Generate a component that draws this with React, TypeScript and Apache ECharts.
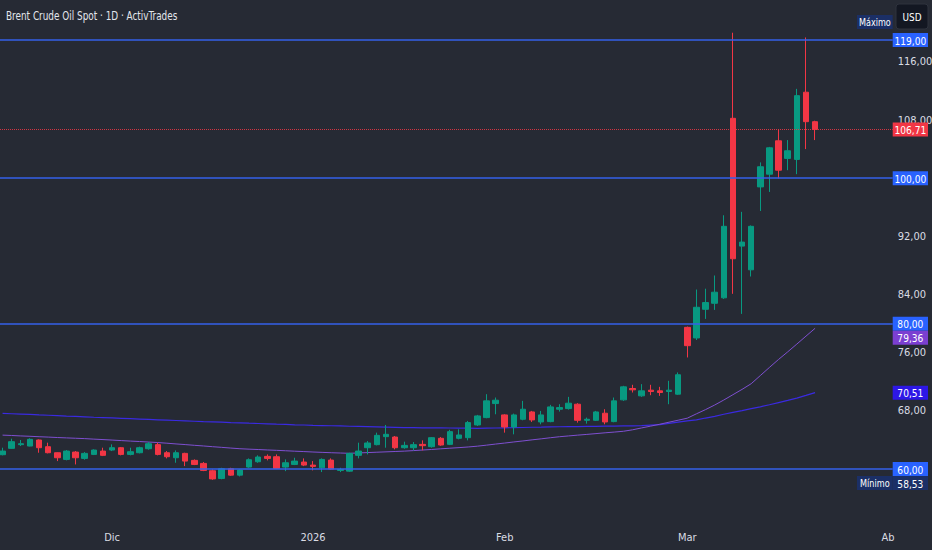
import React, { useEffect, useRef } from "react";
import * as echarts from "echarts";

const FONT =
  "'Liberation Sans Narrow', 'DejaVu Sans Condensed', 'Roboto Condensed', 'Liberation Sans', Arial, sans-serif";

const chartTitle = "Brent Crude Oil Spot · 1D · ActivTrades";

// [open, close, low, high]
const novCandles = [
  [61.98, 62.48, 61.89, 62.94],
  [62.85, 63.77, 62.8, 64.18],
  [63.36, 63.49, 63.17, 64.0],
  [63.17, 64.09, 63.13, 64.23],
  [64.0, 62.94, 62.25, 64.09],
  [63.08, 62.25, 62.16, 63.63],
  [62.25, 61.56, 61.1, 62.3],
  [61.33, 62.48, 61.2, 62.62],
  [62.34, 61.56, 60.64, 62.48],
  [61.47, 62.16, 61.29, 62.34],
  [62.02, 62.62, 61.93, 62.71],
  [62.48, 61.89, 61.79, 62.94],
];
const decCandles = [
  [62.62, 62.94, 62.48, 63.4],
  [62.94, 62.02, 61.89, 63.03],
  [62.02, 62.39, 61.89, 62.94],
  [62.25, 62.94, 62.16, 63.08],
  [62.8, 63.49, 62.67, 63.72],
  [63.36, 62.02, 61.89, 63.63],
  [62.25, 61.7, 61.47, 62.48],
  [61.56, 62.25, 60.87, 62.57],
  [62.16, 61.1, 60.41, 62.25],
  [61.2, 60.64, 60.55, 61.33],
  [60.78, 59.82, 59.72, 60.97],
  [59.77, 58.65, 58.53, 59.95],
  [58.71, 60.05, 58.6, 60.18],
  [60.05, 59.17, 59.08, 60.18],
  [59.17, 59.86, 58.99, 59.95],
  [60.28, 61.29, 60.18, 61.47],
  [61.01, 61.66, 60.87, 61.89],
  [61.75, 61.47, 61.2, 62.02],
  [61.7, 60.09, 60.0, 62.02],
  [60.28, 60.87, 59.72, 61.33],
  [60.64, 61.1, 60.55, 61.56],
  [60.97, 60.55, 60.41, 61.47],
];
const janCandles = [
  [60.55, 60.37, 59.82, 61.1],
  [60.18, 61.33, 59.59, 61.47],
  [61.24, 60.0, 59.91, 61.47],
  [59.82, 59.95, 59.59, 60.18],
  [59.72, 62.16, 59.63, 62.25],
  [61.89, 62.48, 61.47, 63.63],
  [62.94, 63.59, 62.02, 63.86],
  [63.36, 64.64, 63.26, 65.01],
  [64.46, 64.78, 62.94, 66.07],
  [64.41, 62.94, 62.71, 64.55],
  [62.94, 63.26, 62.8, 63.77],
  [62.94, 63.36, 62.57, 63.72],
  [63.4, 63.22, 62.57, 63.95],
  [63.08, 64.32, 62.94, 64.41],
  [64.23, 63.31, 63.2, 64.4],
  [63.4, 65.15, 63.3, 65.4],
  [64.23, 64.69, 64.09, 65.47],
  [64.32, 66.39, 63.95, 66.62],
  [66.07, 67.31, 65.93, 67.45],
  [67.08, 69.38, 66.99, 70.3],
  [69.01, 69.47, 67.54, 69.84],
];
const febCandles = [
  [67.45, 65.79, 65.01, 67.54],
  [65.79, 67.45, 64.78, 67.63],
  [66.85, 68.23, 66.71, 69.38],
  [67.86, 66.76, 66.48, 68.0],
  [66.48, 67.45, 66.16, 68.0],
  [66.53, 68.55, 66.44, 68.83],
  [68.23, 68.46, 67.91, 68.92],
  [68.32, 69.06, 68.18, 69.93],
  [68.92, 66.71, 66.39, 69.06],
  [66.71, 66.85, 66.25, 67.08],
  [66.71, 67.86, 66.62, 68.0],
  [67.68, 66.48, 66.16, 68.23],
  [66.53, 69.38, 66.44, 69.84],
  [69.52, 71.31, 69.38, 71.45],
  [71.08, 70.9, 70.53, 71.59],
  [70.07, 70.76, 69.93, 71.68],
  [70.85, 70.67, 70.16, 71.59],
  [70.76, 70.53, 70.07, 71.31],
  [70.67, 70.85, 68.92, 72.14],
  [70.3, 72.97, 70.21, 73.29],
];
const marCandles = [
  [79.49, 76.97, 75.35, 79.6],
  [78.03, 82.25, 77.75, 84.69],
  [81.97, 82.9, 80.65, 84.8],
  [82.8, 84.32, 81.89, 86.62],
  [83.55, 93.38, 83.4, 94.9],
  [108.23, 88.92, 84.1, 120.0],
  [90.66, 91.21, 81.34, 95.37],
  [87.4, 93.38, 86.48, 93.5],
  [98.8, 101.57, 95.49, 102.17],
  [100.55, 104.18, 98.11, 104.3],
  [105.14, 101.1, 99.96, 106.72],
  [102.72, 103.77, 101.1, 105.24],
  [102.58, 111.35, 100.55, 112.28],
  [111.82, 107.77, 104.0, 119.35],
  [107.77, 106.71, 105.24, 107.9],
];

// moving averages, one value per session
const maFast = [
  64.67, 64.62, 64.56, 64.51, 64.45, 64.4, 64.34, 64.29, 64.24, 64.19,
  64.12, 64.06, 63.99, 63.92, 63.85, 63.79, 63.72, 63.65, 63.56, 63.46,
  63.37, 63.27, 63.18, 63.08, 62.99, 62.89, 62.8, 62.74, 62.69, 62.63,
  62.58, 62.52, 62.46, 62.41, 62.35, 62.3, 62.25, 62.21, 62.17, 62.22,
  62.27, 62.32, 62.37, 62.42, 62.47, 62.54, 62.62, 62.7, 62.79, 62.87,
  62.95, 63.04, 63.15, 63.29, 63.44, 63.58, 63.73, 63.87, 64.02, 64.16,
  64.31, 64.45, 64.56, 64.67, 64.77, 64.88, 64.99, 65.09, 65.2, 65.4,
  65.66, 65.91, 66.17, 66.45, 66.72, 67.0, 67.6, 68.18, 68.81, 69.5,
  70.23, 70.96, 71.74, 72.86, 73.98, 75.08, 76.12, 77.19, 78.28, 79.36,
];
const maSlow = [
  67.66, 67.61, 67.56, 67.51, 67.45, 67.4, 67.35, 67.29, 67.24, 67.19,
  67.13, 67.08, 67.03, 66.98, 66.93, 66.88, 66.83, 66.78, 66.73, 66.68,
  66.63, 66.58, 66.53, 66.49, 66.45, 66.4, 66.36, 66.31, 66.27, 66.23,
  66.18, 66.14, 66.09, 66.06, 66.02, 65.99, 65.96, 65.93, 65.89, 65.86,
  65.83, 65.8, 65.77, 65.74, 65.71, 65.7, 65.68, 65.67, 65.66, 65.65,
  65.64, 65.63, 65.61, 65.63, 65.65, 65.68, 65.7, 65.72, 65.75, 65.77,
  65.8, 65.82, 65.84, 65.85, 65.87, 65.88, 65.9, 65.91, 65.93, 65.95,
  65.97, 66.04, 66.11, 66.28, 66.45, 66.62, 66.77, 67.02, 67.26, 67.54,
  67.8, 68.05, 68.31, 68.56, 68.85, 69.15, 69.44, 69.76, 70.13, 70.51,
];

const levelLines = [119, 100, 80, 60];
const lastPrice = 106.71;
const yTickLabels = [68, 76, 84, 92, 108, 116];
const monthTicks: Record<string, string> = {
  "2025-12-01": "Dic",
  "2026-01-02": "2026",
  "2026-02-02": "Feb",
  "2026-03-02": "Mar",
  "2026-04-01": "Ab",
};
const firstDay = "2025-11-13";
const lastDay = "2026-04-01";
const holidays = ["2025-12-25", "2026-01-01"];

const BG = "#262a34";
const TEXT = "#d9dce3";
const UP = "#089981";
const DOWN = "#f23645";
const LEVEL_BLUE = "#2962ff";
const LEVEL_LINE = "#3560e8";
const FAST_COLOR = "#7e4fd0";
const FAST_TAG = "#7b3fd1";
const SLOW_COLOR = "#3a2ae0";
const SLOW_TAG = "#2d17e6";
const HL_TAG = "#1b2f66";

const W = 932;
const H = 550;
const GRID_LEFT = -2;
const GRID_RIGHT_EDGE = 892.7;

function tradingDays(from: string, to: string, skip: string[]): string[] {
  const out: string[] = [];
  const d = new Date(from + "T00:00:00Z");
  const end = new Date(to + "T00:00:00Z");
  while (d <= end) {
    const wd = d.getUTCDay();
    const s = d.toISOString().slice(0, 10);
    if (wd !== 0 && wd !== 6 && !skip.includes(s)) out.push(s);
    d.setUTCDate(d.getUTCDate() + 1);
  }
  return out;
}

const fmt = (v: number) => v.toFixed(2).replace(".", ",");

export default function App() {
  const ref = useRef<HTMLDivElement>(null);

  useEffect(() => {
    if (!ref.current) return;
    const chart = echarts.init(ref.current, null, { renderer: "svg" });
    const categories = tradingDays(firstDay, lastDay, holidays);
    const candles = [
      ...novCandles,
      ...decCandles,
      ...janCandles,
      ...febCandles,
      ...marCandles,
    ];

    chart.setOption({
      animation: false,
      backgroundColor: BG,
      textStyle: { fontFamily: FONT },
      grid: {
        left: GRID_LEFT,
        right: W - GRID_RIGHT_EDGE,
        top: 0,
        bottom: 30,
        containLabel: false,
        outerBoundsMode: "none",
      },
      xAxis: {
        type: "category",
        data: categories,
        boundaryGap: true,
        axisLine: { show: false },
        axisTick: { show: false },
        splitLine: { show: false },
        axisLabel: {
          interval: (_i: number, val: string) => val in monthTicks,
          formatter: (val: string) => monthTicks[val] ?? "",
          color: TEXT,
          fontSize: 11,
          margin: 12,
          fontFamily: FONT,
        },
      },
      yAxis: {
        type: "value",
        position: "right",
        min: 53,
        max: 124.5,
        splitLine: { show: false },
        axisLine: { show: false },
        axisTick: { show: false },
        axisLabel: {
          customValues: yTickLabels,
          formatter: (v: number) => fmt(v),
          color: TEXT,
          fontSize: 11,
          margin: 5,
          fontFamily: FONT,
        },
      },
      series: [
        {
          type: "line",
          data: maSlow,
          symbol: "none",
          showSymbol: false,
          silent: true,
          lineStyle: { color: SLOW_COLOR, width: 1.2 },
          z: 2,
        },
        {
          type: "line",
          data: maFast,
          symbol: "none",
          showSymbol: false,
          silent: true,
          lineStyle: { color: FAST_COLOR, width: 1 },
          z: 2,
        },
        {
          type: "candlestick",
          data: candles,
          barWidth: 6,
          z: 3,
          itemStyle: {
            color: UP,
            color0: DOWN,
            borderColor: UP,
            borderColor0: DOWN,
            borderWidth: 1,
          },
          markLine: {
            symbol: "none",
            silent: true,
            animation: false,
            label: { show: false },
            data: [
              ...levelLines.map((v) => ({
                yAxis: v,
                lineStyle: { color: LEVEL_LINE, width: 1.5, type: "solid" },
              })),
              {
                yAxis: lastPrice,
                lineStyle: { color: DOWN, width: 1, type: "dotted", opacity: 0.85 },
              },
            ],
          },
        },
      ],
    });

    const yPx = (v: number) => chart.convertToPixel({ yAxisIndex: 0 }, v) as number;
    const TAG_H = 14;
    const boxX = GRID_RIGHT_EDGE;
    const boxW = 928 - GRID_RIGHT_EDGE;

    const highs = candles.map((c) => c[3]);
    const lows = candles.map((c) => c[2]);
    const maxHigh = Math.max(...highs);
    const minLow = Math.min(...lows);

    type Tag = { v: number; c: number; text: string; bg: string };
    const placed: Tag[] = [];
    const place = (v: number, text: string, bg: string) => {
      let c = yPx(v);
      for (let k = 0; k < 3; k++) {
        for (const p of placed) {
          if (Math.abs(c - p.c) < TAG_H) {
            c = v < p.v ? p.c + TAG_H : p.c - TAG_H;
          }
        }
      }
      const t = { v, c, text, bg };
      placed.push(t);
      return t;
    };

    levelLines.forEach((v) => place(v, fmt(v), LEVEL_BLUE));
    place(lastPrice, fmt(lastPrice), DOWN);
    place(maSlow[maSlow.length - 1], fmt(maSlow[maSlow.length - 1]), SLOW_TAG);
    place(maFast[maFast.length - 1], fmt(maFast[maFast.length - 1]), FAST_TAG);
    const minTag = place(minLow, fmt(minLow), HL_TAG);
    // máximo: only the side label is visible, its value sits under the currency button
    let maxC = yPx(maxHigh);
    for (const p of placed) {
      if (Math.abs(maxC - p.c) < TAG_H) maxC = p.c - TAG_H - 4;
    }

    const textStyle = (text: string, size = 11) => ({
      text,
      fill: "#ffffff",
      fontSize: size,
      fontFamily: FONT,
      align: "center",
      verticalAlign: "middle",
    });

    const elements: any[] = [];
    // chart title
    elements.push({
      type: "text",
      z: 110,
      x: 6,
      y: 16.5,
      scaleX: 0.79,
      style: {
        text: chartTitle,
        fill: "#e3e6ec",
        fontSize: 12.5,
        fontFamily: FONT,
        align: "left",
        verticalAlign: "middle",
      },
    });
    placed.forEach((t) => {
      elements.push({
        type: "rect",
        z: 100,
        shape: { x: boxX, y: t.c - TAG_H / 2, width: boxW, height: TAG_H },
        style: { fill: t.bg },
      });
      elements.push({
        type: "text",
        z: 101,
        x: boxX + boxW / 2,
        y: t.c + 0.5,
        scaleX: 0.92,
        style: textStyle(t.text),
      });
    });
    // Mínimo side label
    elements.push({
      type: "rect",
      z: 100,
      shape: { x: 857, y: minTag.c - TAG_H / 2, width: boxX - 857, height: TAG_H },
      style: { fill: HL_TAG },
    });
    elements.push({
      type: "text",
      z: 101,
      x: (857 + boxX) / 2,
      y: minTag.c + 0.5,
      scaleX: 0.82,
      style: textStyle("Mínimo"),
    });
    // Máximo side label
    elements.push({
      type: "rect",
      z: 100,
      shape: { x: 857, y: maxC - TAG_H / 2, width: boxX - 857, height: TAG_H },
      style: { fill: HL_TAG },
    });
    elements.push({
      type: "text",
      z: 101,
      x: (857 + boxX) / 2,
      y: maxC + 0.5,
      scaleX: 0.82,
      style: textStyle("Máximo"),
    });
    // currency button
    elements.push({
      type: "rect",
      z: 102,
      shape: { x: 896, y: 4, width: 32, height: 25, r: 3 },
      style: { fill: "#131722", stroke: "#2e323d", lineWidth: 1 },
    });
    elements.push({
      type: "text",
      z: 103,
      x: 912,
      y: 17,
      scaleX: 0.9,
      style: textStyle("USD"),
    });

    chart.setOption({ graphic: elements });

    return () => chart.dispose();
  }, []);

  return (
    <div
      ref={ref}
      style={{ position: "fixed", left: 0, top: 0, width: W, height: H }}
    />
  );
}
